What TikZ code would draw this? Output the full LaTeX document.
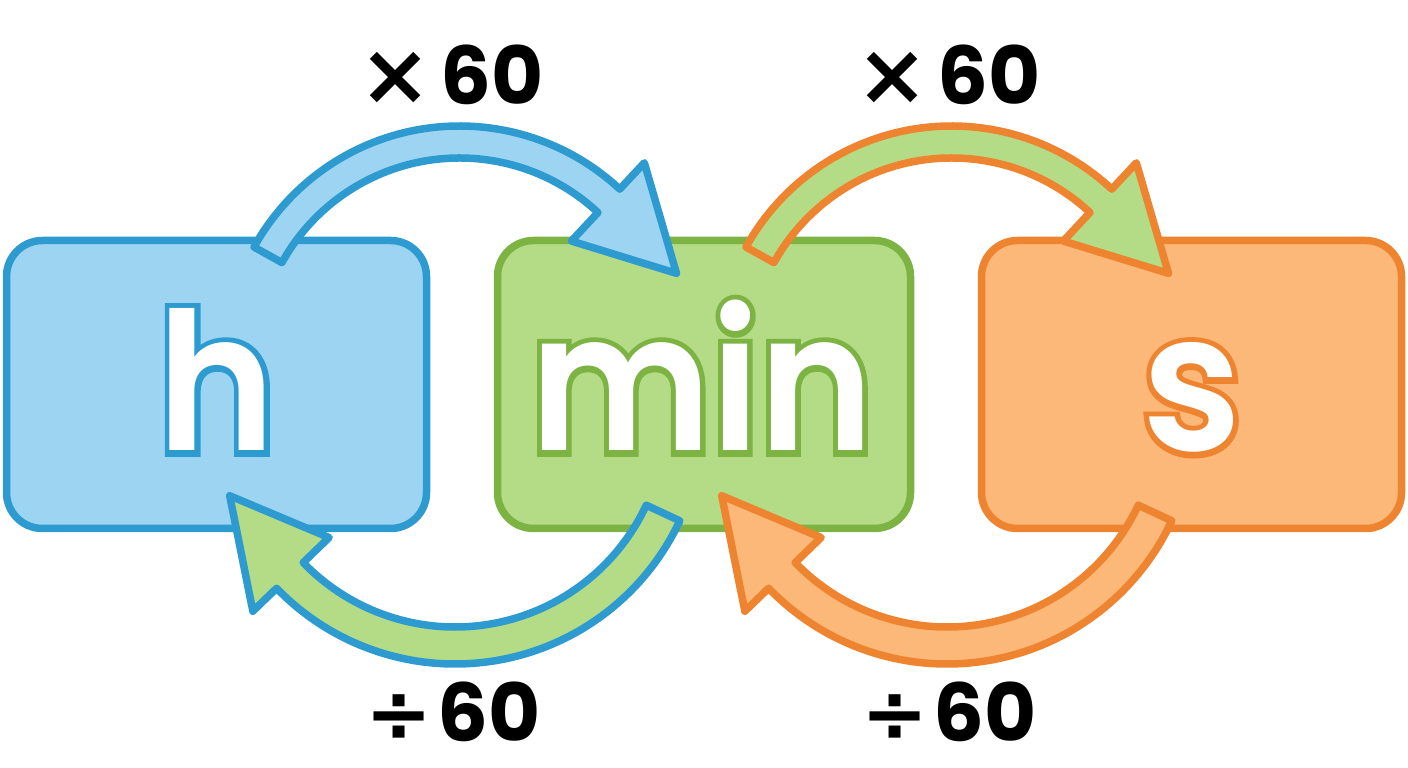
\documentclass[tikz,border=0pt]{standalone}
\usepackage{fontspec}
\setmainfont{Poppins}
\newfontfamily\unitfont{Poppins SemiBold}
\newfontfamily\unitoutline{Poppins SemiBold}[FakeBold=6]
\newfontfamily\signfont{DejaVu Sans}
\usetikzlibrary{calc}
\definecolor{bstroke}{HTML}{2E9BD0}
\definecolor{bfill}{HTML}{9DD4F2}
\definecolor{gstroke}{HTML}{7CB342}
\definecolor{gfill}{HTML}{B4DB85}
\definecolor{ostroke}{HTML}{EE8430}
\definecolor{ofill}{HTML}{FBB878}
\tikzset{
  unitbox/.style={draw, line width=7.5pt, rounded corners=36pt, minimum height=288pt, inner sep=0pt},
  bandarrow/.style={line width=7.5pt, line join=round},
  unitshadow/.style={anchor=base, inner sep=0pt, font=\unitoutline\fontsize{192}{192}\selectfont},
  unittext/.style={anchor=base, text=white, inner sep=0pt, font=\unitfont\fontsize{192}{192}\selectfont},
  factor/.style={anchor=base, text=black, inner sep=0pt, font=\bfseries\fontsize{80}{80}\selectfont}
}
\newcommand{\bigtimes}{{\signfont\bfseries\fontsize{86}{86}\selectfont ×}}
\newcommand{\bigdiv}{{\signfont\bfseries ÷}}
\begin{document}
\begin{tikzpicture}[x=1pt,y=1pt]
\useasboundingbox (0,0) rectangle (1408,768);
% boxes
\node[unitbox, draw=bstroke, fill=bfill, minimum width=420pt] (hbox) at (216.5,383.5) {};
\node[unitbox, draw=gstroke, fill=gfill, minimum width=413pt] (minbox) at (704,383.5) {};
\node[unitbox, draw=ostroke, fill=ofill, minimum width=420pt] (sbox) at (1191.5,383.5) {};
% unit letters: coloured outline under white letters
\node[unitshadow, text=bstroke] (hline) at (217,317) {\scalebox{0.93}[1]{h}};
\node[unittext] (htext) at (217,317) {\scalebox{0.93}[1]{h}};
\node[unitshadow, text=gstroke] (minline) at (702,317) {\scalebox{0.9}[1]{min}};
\node[unittext] (mintext) at (702,317) {\scalebox{0.9}[1]{min}};
\node[unitshadow, text=ostroke] (sline) at (1192,317) {\scalebox{0.95}[1]{s}};
\node[unittext] (stext) at (1192,317) {\scalebox{0.95}[1]{s}};
% arc centres
\coordinate (c1) at (459.5,407);
\coordinate (c2) at (951.5,407);
\coordinate (c3) at (455,352);
\coordinate (c4) at (947,352);
% top arrows
\draw[bandarrow, draw=bstroke, fill=bfill]
  ($(c1)+(151:235pt)$) arc[start angle=151,end angle=47,radius=235pt]
  -- ($(c1)+(47:271pt)$) -- ($(c1)+(22:234pt)$) -- ($(c1)+(47:164pt)$)
  -- ($(c1)+(47:203pt)$) arc[start angle=47,end angle=151,radius=203pt] -- cycle;
\draw[bandarrow, draw=ostroke, fill=gfill]
  ($(c2)+(151:235pt)$) arc[start angle=151,end angle=47,radius=235pt]
  -- ($(c2)+(47:271pt)$) -- ($(c2)+(22:234pt)$) -- ($(c2)+(47:164pt)$)
  -- ($(c2)+(47:203pt)$) arc[start angle=47,end angle=151,radius=203pt] -- cycle;
% bottom arrows
\draw[bandarrow, draw=bstroke, fill=gfill]
  ($(c3)+(-25:248pt)$) arc[start angle=-25,end angle=-136,radius=248pt]
  -- ($(c3)+(-136:281pt)$) -- ($(c3)+(-160.5:239pt)$) -- ($(c3)+(-136:175pt)$)
  -- ($(c3)+(-136:211pt)$) arc[start angle=-136,end angle=-25,radius=211pt] -- cycle;
\draw[bandarrow, draw=ostroke, fill=ofill]
  ($(c4)+(-25:248pt)$) arc[start angle=-25,end angle=-136,radius=248pt]
  -- ($(c4)+(-136:281pt)$) -- ($(c4)+(-160.5:239pt)$) -- ($(c4)+(-136:175pt)$)
  -- ($(c4)+(-136:211pt)$) arc[start angle=-136,end angle=-25,radius=211pt] -- cycle;
% labels
\node[factor] (mul1) at (452,663) {\bigtimes\kern9pt60};
\node[factor] (mul2) at (949,663) {\bigtimes\kern9pt60};
\node[factor] (div1) at (453,26) {\bigdiv\kern5pt60};
\node[factor] (div2) at (949,26) {\bigdiv\kern5pt60};
\end{tikzpicture}
\end{document}
